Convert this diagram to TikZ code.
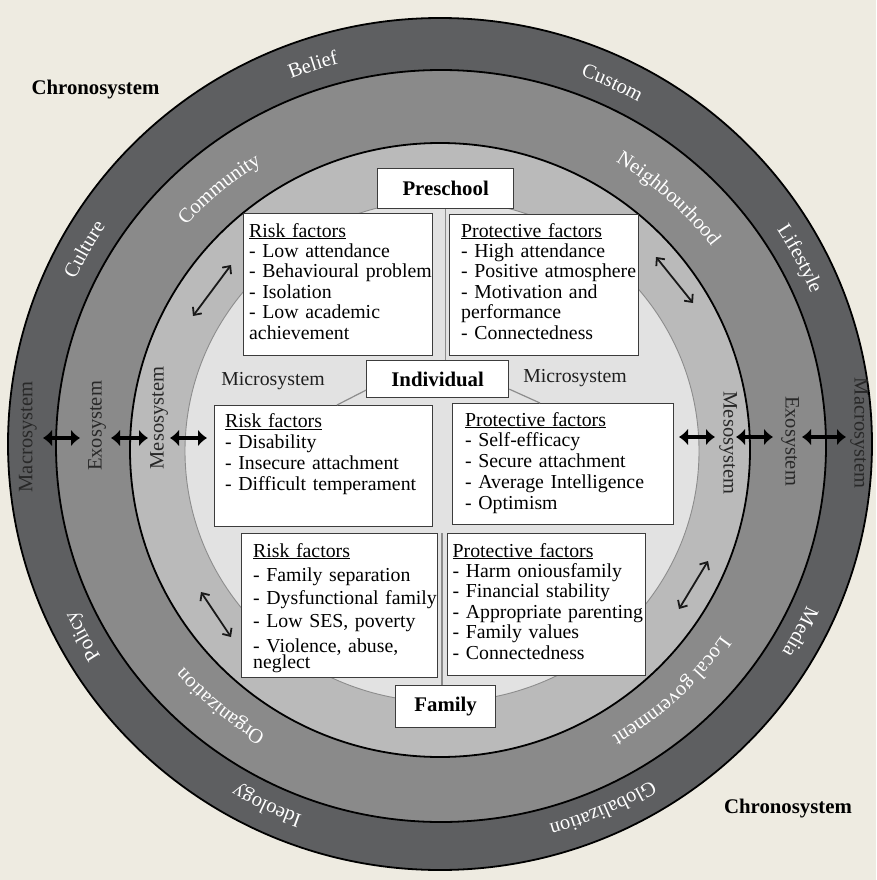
\documentclass[tikz,border=0pt]{standalone}
\usepackage{fontspec}
\setmainfont{Liberation Serif}
\usetikzlibrary{arrows.meta,decorations.text,calc}

\definecolor{paper}{RGB}{238,235,225}
\definecolor{macroring}{RGB}{94,95,97}
\definecolor{exoring}{RGB}{138,138,138}
\definecolor{mesoout}{RGB}{160,160,160}
\definecolor{mesoin}{RGB}{186,186,186}
\definecolor{microout}{RGB}{206,206,206}
\definecolor{microin}{RGB}{226,226,226}
\definecolor{boxline}{RGB}{60,60,60}
\definecolor{ringtext}{RGB}{40,40,40}
\definecolor{divider}{RGB}{140,140,140}

\pgfdeclareradialshading{mesoshade}{\pgfpoint{0bp}{0bp}}{color(0bp)=(mesoin); color(40bp)=(mesoin); color(50bp)=(mesoout)}
\pgfdeclareradialshading{microshade}{\pgfpoint{0bp}{0bp}}{color(0bp)=(microin); color(28bp)=(microin); color(50bp)=(microout)}

\newcommand\nohyph{\hyphenpenalty=10000\relax}

% curved white word along a ring: centre, x radius, y radius, screen angle, text
\newcommand\ringlabel[5]{%
  \path[decorate, decoration={text along path, text align=center, text color=white,
      text={|\fontsize{20.5}{22}\selectfont|#5}}]
    #1 ++({-(#4)-40}:#2 and #3) arc[start angle={-(#4)-40}, end angle={-(#4)+40}, x radius=#2, y radius=#3];}

\begin{document}
\begin{tikzpicture}[x=1pt,y=-1pt,
  fbox/.style={draw=boxline, fill=white, line width=1.3pt, rectangle, inner sep=0pt},
  ftext/.style={inner sep=0pt, align=left, text width=260, font=\fontsize{19.8}{20.4}\selectfont\nohyph},
  ftextwide/.style={ftext, font=\fontsize{19.8}{20.9}\selectfont\nohyph},
  head/.style={fbox, font=\bfseries\fontsize{20.8}{22}\selectfont},
  ringname/.style={text=ringtext, font=\fontsize{20.5}{22}\selectfont, inner sep=0pt},
  microname/.style={text=black!88, font=\fontsize{19.8}{22}\selectfont, inner sep=0pt},
  chrono/.style={font=\bfseries\fontsize{20.8}{22}\selectfont, inner sep=0pt},
  bigarrow/.style={line width=3.2pt, {Latex[length=9pt,width=17pt]}-{Latex[length=9pt,width=17pt]}},
  linkarrow/.style={line width=1.8pt, black!90, {Straight Barb[length=6pt,width=11pt]}-{Straight Barb[length=6pt,width=11pt]}},
  divline/.style={draw=divider, line width=1.4pt},
]
\useasboundingbox (0,0) rectangle (876,880);
\fill[paper] (0,0) rectangle (876,880);

% nested system rings
\fill[macroring, draw=black, line width=1.8pt] (440,444) ellipse [x radius=432, y radius=426];
\fill[exoring, draw=black, line width=1.8pt] (441,446) ellipse [x radius=385, y radius=376];
\shade[shading=mesoshade] (440,450) ellipse [x radius=310, y radius=307];
\draw[black, line width=1.8pt] (440,450) ellipse [x radius=310, y radius=307];
\shade[shading=microshade] (442,451) ellipse [x radius=257, y radius=251];
\draw[divider, line width=0.9pt] (442,451) ellipse [x radius=257, y radius=251];

% macrosystem words
\ringlabel{(440,445)}{402}{394}{108.3}{Belief}
\ringlabel{(440,445)}{402}{394}{64.8}{Custom}
\ringlabel{(440,445)}{402}{394}{150.9}{Culture}
\ringlabel{(440,445)}{402}{394}{27.6}{Lifestyle}
\ringlabel{(440,445)}{402}{394}{208.4}{Policy}
\ringlabel{(440,445)}{402}{394}{244.6}{Ideology}
\ringlabel{(440,445)}{402}{394}{293.9}{Globalization}
\ringlabel{(440,445)}{402}{394}{332.3}{Media}

% exosystem words
\ringlabel{(440,448)}{340}{334}{130.2}{Community}
\ringlabel{(440,448)}{340}{334}{47.8}{Neighbourhood}
\ringlabel{(440,448)}{340}{334}{229.9}{Organization}
\ringlabel{(440,448)}{340}{334}{313.3}{Local government}

% system names on the horizontal axis
\node[ringname, rotate=90] (macL) at (28,437) {Macrosystem};
\node[ringname, rotate=90] (exoL) at (97,426) {Exosystem};
\node[ringname, rotate=90] (mesL) at (159,418) {Mesosystem};
\node[ringname, rotate=-90] (mesR) at (728,443) {Mesosystem};
\node[ringname, rotate=-90] (exoR) at (790,441) {Exosystem};
\node[ringname, rotate=-90] (macR) at (859,433) {Macrosystem};

\node[microname, anchor=base] (micL) at (273,385) {Microsystem};
\node[microname, anchor=base] (micR) at (575,382) {Microsystem};

\node[chrono, anchor=base] (chrTL) at (95.5,95) {Chronosystem};
\node[chrono, anchor=base] (chrBR) at (788,813) {Chronosystem};

% setting boxes
\node[head, minimum width=136, minimum height=40, anchor=north west] (pre) at (377,168) {Preschool};
\node[head, minimum width=142, minimum height=37, anchor=north west] (ind) at (366,360) {Individual};
\node[head, minimum width=100, minimum height=42, anchor=north west] (fam) at (395,685) {Family};

% factor boxes
\node[fbox, minimum width=189, minimum height=142, anchor=north west] (ur) at (243,213) {};
\node[fbox, minimum width=189, minimum height=141, anchor=north west] (up) at (449,214) {};
\node[fbox, minimum width=218, minimum height=121, anchor=north west] (mr) at (214,405) {};
\node[fbox, minimum width=221, minimum height=121, anchor=north west] (mp) at (452,403) {};
\node[fbox, minimum width=196, minimum height=144, anchor=north west] (lr) at (241,533) {};
\node[fbox, minimum width=198, minimum height=142, anchor=north west] (lp) at (447,533) {};

\node[ftext, anchor=base west] (urt) at (249,237)
  {\underline{Risk factors}\\- Low attendance\\- Behavioural problem\\- Isolation\\- Low academic\\achievement};
\node[ftext, anchor=base west] (upt) at (461,237)
  {\underline{Protective factors}\\- High attendance\\- Positive atmosphere\\- Motivation and\\performance\\- Connectedness};
\node[ftextwide, anchor=base west] (mrt) at (225,427.5)
  {\underline{Risk factors}\\- Disability\\- Insecure attachment\\- Difficult temperament};
\node[ftextwide, anchor=base west] (mpt) at (465,426)
  {\underline{Protective factors}\\- Self-efficacy\\- Secure attachment\\- Average Intelligence\\- Optimism};
\node[ftext, anchor=base west] (lrt) at (253,557)
  {\underline{Risk factors}\\[3.6pt]- Family separation\\[2.6pt]- Dysfunctional family\\[2.6pt]- Low SES, poverty\\[4.6pt]- Violence, abuse,\\[-4.4pt]neglect};
\node[ftext, anchor=base west] (lpt) at (452.5,557)
  {\underline{Protective factors}\\- Harm oniousfamily\\- Financial stability\\- Appropriate parenting\\- Family values\\- Connectedness};

% links between the settings and the individual
\coordinate (lowgap) at (442,533);
\draw[divline] (pre.south) -- (pre.south |- ind.north);
\draw[divline] (lowgap) -- (lowgap |- fam.north);
\draw[divider, line width=1.2pt] ($(ind.west)+(0,11)$) -- ($(mr.north west)+(123,0)$);
\draw[divider, line width=1.2pt] ($(ind.east)+(0,10)$) -- ($(mp.north west)+(88,0)$);

% two-way influences between the rings
\coordinate (h1a) at (43,438);  \coordinate (h1b) at (80,438);
\coordinate (h2a) at (111,438); \coordinate (h2b) at (148,438);
\coordinate (h3a) at (170,438); \coordinate (h3b) at (207,438);
\coordinate (h4a) at (679,437); \coordinate (h4b) at (715,437);
\coordinate (h5a) at (736,437); \coordinate (h5b) at (773,437);
\coordinate (h6a) at (802,437); \coordinate (h6b) at (846,437);
\foreach \i in {1,...,6} { \draw[bigarrow] (h\i a) -- (h\i b); }

\coordinate (d1a) at (193,316); \coordinate (d1b) at (231,265);
\coordinate (d2a) at (656,257); \coordinate (d2b) at (693,303);
\coordinate (d3a) at (201,592); \coordinate (d3b) at (231,637);
\coordinate (d4a) at (708,561); \coordinate (d4b) at (679,609);
\foreach \i in {1,...,4} { \draw[linkarrow] (d\i a) -- (d\i b); }
\end{tikzpicture}
\end{document}
